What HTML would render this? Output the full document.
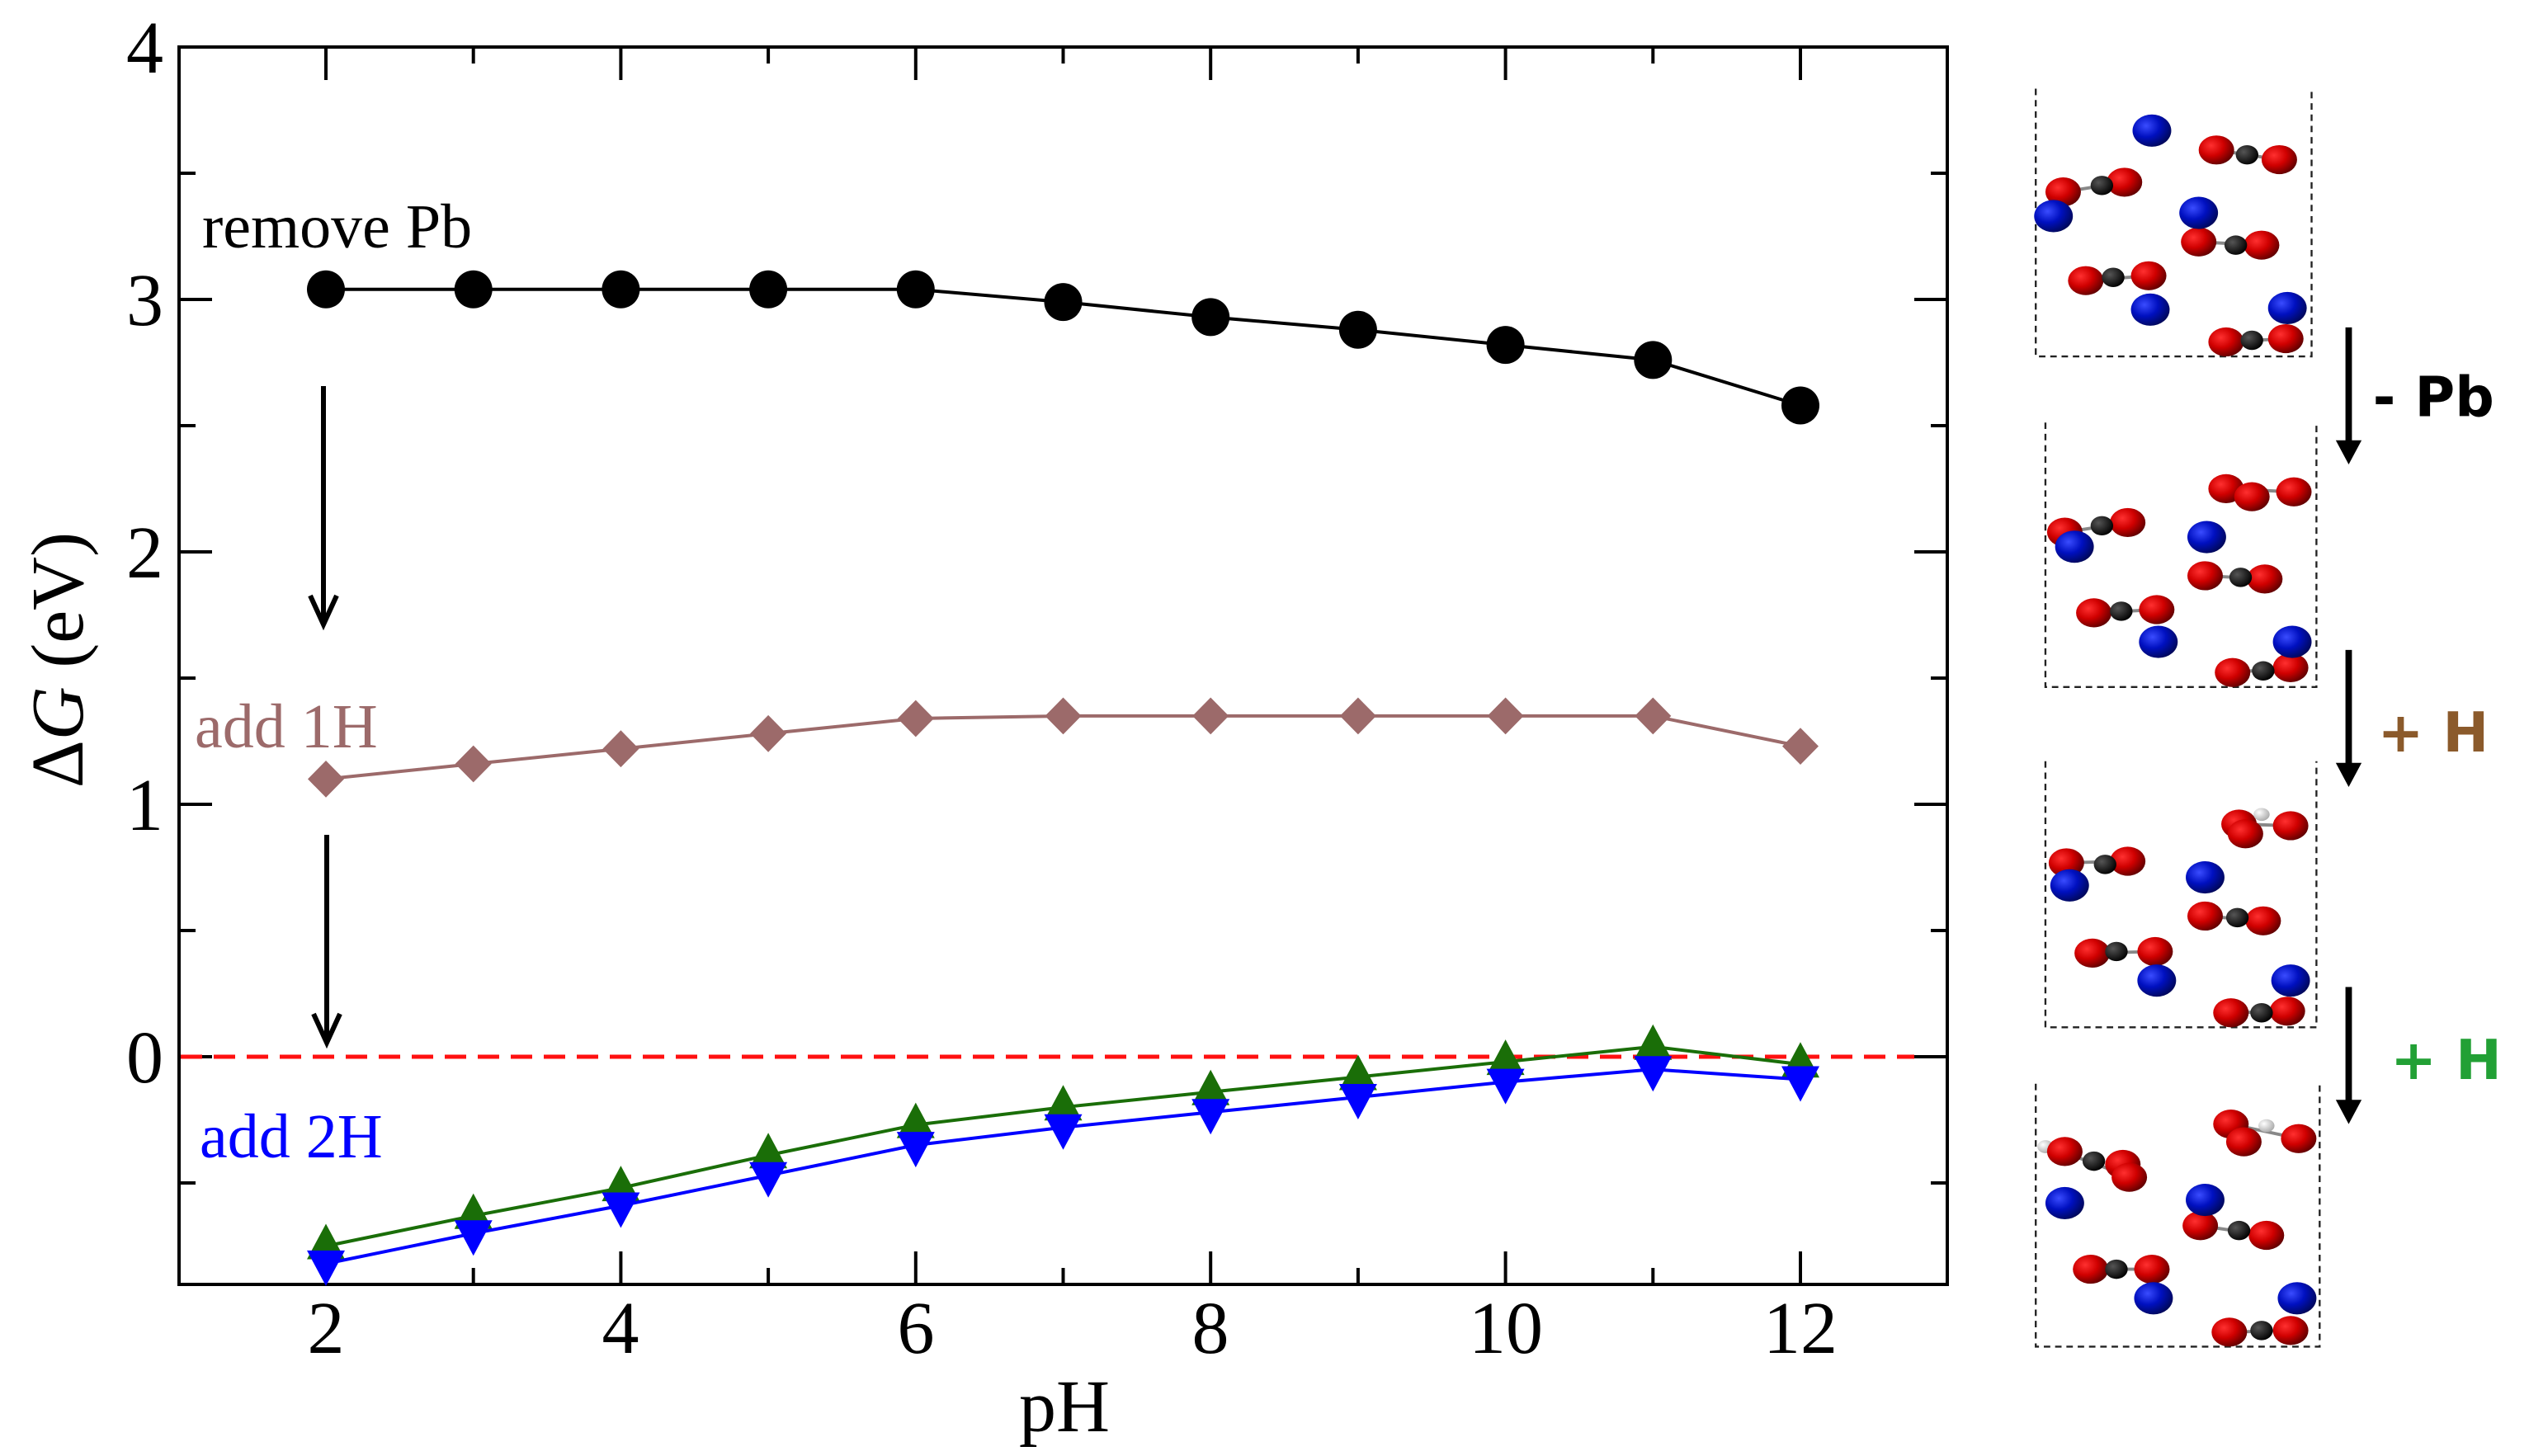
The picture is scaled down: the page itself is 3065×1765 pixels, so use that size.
<!DOCTYPE html>
<html><head><meta charset="utf-8"><style>
html,body{margin:0;padding:0;background:#fff}
svg{display:block}
.serif{font-family:"Liberation Serif","Times New Roman",serif}
</style></head><body>
<svg width="3065" height="1765" viewBox="0 0 3065 1765" xmlns="http://www.w3.org/2000/svg">
<defs>
<radialGradient id="gb" cx="0.35" cy="0.35" r="0.7"><stop offset="0" stop-color="#3a4cff"/><stop offset="0.5" stop-color="#0010c0"/><stop offset="1" stop-color="#00085a"/></radialGradient>
<radialGradient id="gr" cx="0.35" cy="0.35" r="0.7"><stop offset="0" stop-color="#ff3030"/><stop offset="0.5" stop-color="#d00000"/><stop offset="1" stop-color="#600000"/></radialGradient>
<radialGradient id="gk" cx="0.35" cy="0.35" r="0.7"><stop offset="0" stop-color="#555"/><stop offset="1" stop-color="#000"/></radialGradient>
<radialGradient id="gw" cx="0.35" cy="0.35" r="0.7"><stop offset="0" stop-color="#fff"/><stop offset="1" stop-color="#aaa"/></radialGradient>
</defs>

<rect x="217" y="57" width="2143" height="1500" fill="none" stroke="#000" stroke-width="4"/>
<g stroke="#000" stroke-width="4">
<path d="M395 1557v-40M752.4 1557v-40M1109.8 1557v-40M1467.2 1557v-40M1824.6 1557v-40M2182 1557v-40"/>
<path d="M395 57v40M752.4 57v40M1109.8 57v40M1467.2 57v40M1824.6 57v40M2182 57v40"/>
<path d="M573.7 1557v-20M931.1 1557v-20M1288.5 1557v-20M1645.9 1557v-20M2003.3 1557v-20"/>
<path d="M573.7 57v20M931.1 57v20M1288.5 57v20M1645.9 57v20M2003.3 57v20"/>
<path d="M217 1281h40M217 975h40M217 669h40M217 363h40"/>
<path d="M2360 1281h-40M2360 975h-40M2360 669h-40M2360 363h-40"/>
<path d="M217 1434h20M217 1128h20M217 822h20M217 516h20M217 210h20"/>
<path d="M2360 1434h-20M2360 1128h-20M2360 822h-20M2360 516h-20M2360 210h-20"/>
</g>

<g class="serif" font-size="90" fill="#000">
<g text-anchor="middle">
<text x="395" y="1640">2</text><text x="752" y="1640">4</text><text x="1110" y="1640">6</text>
<text x="1467" y="1640">8</text><text x="1825" y="1640">10</text><text x="2182" y="1640">12</text>
</g>
<g text-anchor="end">
<text x="198" y="88">4</text><text x="198" y="394">3</text><text x="198" y="700">2</text>
<text x="198" y="1006">1</text><text x="198" y="1312">0</text>
</g>
<text x="1290" y="1735" text-anchor="middle">pH</text>
<text transform="translate(100,800) rotate(-90)" text-anchor="middle"><tspan>Δ</tspan><tspan font-style="italic">G</tspan><tspan> (eV)</tspan></text>
</g>

<line x1="219" y1="1281" x2="2320" y2="1281" stroke="#ff1010" stroke-width="5" stroke-dasharray="26,14"/>

<g class="serif" font-size="76">
<text x="245" y="300" fill="#000">remove Pb</text>
<text x="236" y="906" fill="#9c6a6a">add 1H</text>
<text x="242" y="1403" fill="#0000ff">add 2H</text>
</g>

<g stroke="#000" stroke-width="6" fill="none">
<path d="M392 468V755M376 722L392 757L408 722"/>
<path d="M396 1012V1262M380 1229L396 1264L412 1229"/>
</g>

<polyline fill="none" stroke="#000" stroke-width="4" points="395,350.8 573.7,350.8 752.4,350.8 931.1,350.8 1109.8,350.8 1288.5,366.1 1467.2,384.4 1645.9,399.7 1824.6,418.1 2003.3,436.4 2182,491.5"/>
<g fill="#000">
<circle cx="395" cy="350.8" r="23"/><circle cx="573.7" cy="350.8" r="23"/><circle cx="752.4" cy="350.8" r="23"/><circle cx="931.1" cy="350.8" r="23"/><circle cx="1109.8" cy="350.8" r="23"/><circle cx="1288.5" cy="366.1" r="23"/><circle cx="1467.2" cy="384.4" r="23"/><circle cx="1645.9" cy="399.7" r="23"/><circle cx="1824.6" cy="418.1" r="23"/><circle cx="2003.3" cy="436.4" r="23"/><circle cx="2182" cy="491.5" r="23"/>
</g>

<polyline fill="none" stroke="#9c6a6a" stroke-width="4" points="395,944.4 573.7,926 752.4,907.7 931.1,889.3 1109.8,871 1288.5,867.9 1467.2,867.9 1645.9,867.9 1824.6,867.9 2003.3,867.9 2182,904.6"/>
<g fill="#9c6a6a">
<path d="M395 922l22 22.4l-22 22.4l-22-22.4z"/>
<path d="M573.7 903.6l22 22.4l-22 22.4l-22-22.4z"/>
<path d="M752.4 885.3l22 22.4l-22 22.4l-22-22.4z"/>
<path d="M931.1 866.9l22 22.4l-22 22.4l-22-22.4z"/>
<path d="M1109.8 848.6l22 22.4l-22 22.4l-22-22.4z"/>
<path d="M1288.5 845.5l22 22.4l-22 22.4l-22-22.4z"/>
<path d="M1467.2 845.5l22 22.4l-22 22.4l-22-22.4z"/>
<path d="M1645.9 845.5l22 22.4l-22 22.4l-22-22.4z"/>
<path d="M1824.6 845.5l22 22.4l-22 22.4l-22-22.4z"/>
<path d="M2003.3 845.5l22 22.4l-22 22.4l-22-22.4z"/>
<path d="M2182 882.2l22 22.4l-22 22.4l-22-22.4z"/>
</g>

<polyline fill="none" stroke="#1a6e08" stroke-width="4" points="395,1510.5 573.7,1473.8 752.4,1440.1 931.1,1400.3 1109.8,1363.6 1288.5,1342.2 1467.2,1323.8 1645.9,1305.5 1824.6,1287.1 2003.3,1268.8 2182,1290.2"/>
<g fill="#1a6e08">
<path d="M395 1483.5l23 43h-46z"/>
<path d="M573.7 1446.8l23 43h-46z"/>
<path d="M752.4 1413.1l23 43h-46z"/>
<path d="M931.1 1373.3l23 43h-46z"/>
<path d="M1109.8 1336.6l23 43h-46z"/>
<path d="M1288.5 1315.2l23 43h-46z"/>
<path d="M1467.2 1296.8l23 43h-46z"/>
<path d="M1645.9 1278.5l23 43h-46z"/>
<path d="M1824.6 1260.1l23 43h-46z"/>
<path d="M2003.3 1241.8l23 43h-46z"/>
<path d="M2182 1263.2l23 43h-46z"/>
</g>

<polyline fill="none" stroke="#0000ff" stroke-width="4" points="395,1531.9 573.7,1495.2 752.4,1461.5 931.1,1424.8 1109.8,1388.1 1288.5,1366.7 1467.2,1348.3 1645.9,1330 1824.6,1311.6 2003.3,1296.3 2182,1308.5"/>
<g fill="#0000ff">
<path d="M395 1558.9l23-43h-46z"/>
<path d="M573.7 1522.2l23-43h-46z"/>
<path d="M752.4 1488.5l23-43h-46z"/>
<path d="M931.1 1451.8l23-43h-46z"/>
<path d="M1109.8 1415.1l23-43h-46z"/>
<path d="M1288.5 1393.7l23-43h-46z"/>
<path d="M1467.2 1375.3l23-43h-46z"/>
<path d="M1645.9 1357l23-43h-46z"/>
<path d="M1824.6 1338.6l23-43h-46z"/>
<path d="M2003.3 1323.3l23-43h-46z"/>
<path d="M2182 1335.5l23-43h-46z"/>
</g>

<g transform="scale(1.955)">
<g fill="none" stroke="#222" stroke-width="1.2" stroke-dasharray="4,3">
<path d="M1262 55V221H1433V55"/>
<path d="M1268 262V426H1436V262"/>
<path d="M1268 472V637H1436V472"/>
<path d="M1262 672V835H1438V672"/>
</g>
<g stroke="#888" stroke-width="2">
<path d="M1279 119L1317 113M1374 93L1413 99M1363 150L1402 152M1293 174L1332 171M1380 212L1417 210"/>
<path d="M1280 330L1319 324M1380 303L1422 305M1367 357L1404 359M1298 380L1337 378M1384 417L1420 414"/>
<path d="M1281 535L1319 534M1388 511L1420 512M1367 568L1403 571M1297 591L1336 590M1383 628L1418 627"/>
<path d="M1278 714L1316 728M1383 697L1425 706M1364 760L1405 766M1296 787L1334 787M1382 826L1420 825"/>
</g>
<g fill="url(#gr)">
<ellipse cx="1279" cy="119" rx="11" ry="9"/><ellipse cx="1317" cy="113" rx="11" ry="9"/>
<ellipse cx="1374" cy="93" rx="11" ry="9"/><ellipse cx="1413" cy="99" rx="11" ry="9"/>
<ellipse cx="1363" cy="150" rx="11" ry="9"/><ellipse cx="1402" cy="152" rx="11" ry="9"/>
<ellipse cx="1293" cy="174" rx="11" ry="9"/><ellipse cx="1332" cy="171" rx="11" ry="9"/>
<ellipse cx="1380" cy="212" rx="11" ry="9"/><ellipse cx="1417" cy="210" rx="11" ry="9"/>
</g>
<g fill="url(#gk)">
<ellipse cx="1303" cy="115" rx="7" ry="6"/><ellipse cx="1393" cy="96" rx="7" ry="6"/><ellipse cx="1386" cy="152" rx="7" ry="6"/><ellipse cx="1310" cy="172" rx="7" ry="6"/><ellipse cx="1396" cy="211" rx="7" ry="6"/>
</g>
<g fill="url(#gb)">
<ellipse cx="1334" cy="81" rx="12" ry="10"/><ellipse cx="1273" cy="134" rx="12" ry="10"/><ellipse cx="1363" cy="132" rx="12" ry="10"/><ellipse cx="1333" cy="192" rx="12" ry="10"/><ellipse cx="1418" cy="191" rx="12" ry="10"/>
</g>
<g fill="url(#gr)">
<ellipse cx="1280" cy="330" rx="11" ry="9"/><ellipse cx="1319" cy="324" rx="11" ry="9"/>
<ellipse cx="1380" cy="303" rx="11" ry="9"/><ellipse cx="1396" cy="308" rx="11" ry="9"/><ellipse cx="1422" cy="305" rx="11" ry="9"/>
<ellipse cx="1367" cy="357" rx="11" ry="9"/><ellipse cx="1404" cy="359" rx="11" ry="9"/>
<ellipse cx="1298" cy="380" rx="11" ry="9"/><ellipse cx="1337" cy="378" rx="11" ry="9"/>
<ellipse cx="1384" cy="417" rx="11" ry="9"/><ellipse cx="1420" cy="414" rx="11" ry="9"/>
</g>
<g fill="url(#gk)">
<ellipse cx="1303" cy="326" rx="7" ry="6"/><ellipse cx="1389" cy="358" rx="7" ry="6"/><ellipse cx="1315" cy="379" rx="7" ry="6"/><ellipse cx="1403" cy="416" rx="7" ry="6"/>
</g>
<g fill="url(#gb)">
<ellipse cx="1286" cy="339" rx="12" ry="10"/><ellipse cx="1368" cy="333" rx="12" ry="10"/><ellipse cx="1338" cy="398" rx="12" ry="10"/><ellipse cx="1421" cy="398" rx="12" ry="10"/>
</g>
<g fill="url(#gr)">
<ellipse cx="1281" cy="535" rx="11" ry="9"/><ellipse cx="1319" cy="534" rx="11" ry="9"/>
<ellipse cx="1388" cy="511" rx="11" ry="9"/><ellipse cx="1392" cy="517" rx="11" ry="9"/><ellipse cx="1420" cy="512" rx="11" ry="9"/>
<ellipse cx="1367" cy="568" rx="11" ry="9"/><ellipse cx="1403" cy="571" rx="11" ry="9"/>
<ellipse cx="1297" cy="591" rx="11" ry="9"/><ellipse cx="1336" cy="590" rx="11" ry="9"/>
<ellipse cx="1383" cy="628" rx="11" ry="9"/><ellipse cx="1418" cy="627" rx="11" ry="9"/>
</g>
<g fill="url(#gk)">
<ellipse cx="1305" cy="536" rx="7" ry="6"/><ellipse cx="1387" cy="569" rx="7" ry="6"/><ellipse cx="1312" cy="590" rx="7" ry="6"/><ellipse cx="1402" cy="628" rx="7" ry="6"/>
</g>
<ellipse cx="1402" cy="505" rx="5" ry="4" fill="url(#gw)"/>
<g fill="url(#gb)">
<ellipse cx="1283" cy="549" rx="12" ry="10"/><ellipse cx="1367" cy="544" rx="12" ry="10"/><ellipse cx="1337" cy="608" rx="12" ry="10"/><ellipse cx="1420" cy="608" rx="12" ry="10"/>
</g>
<ellipse cx="1268" cy="711" rx="5" ry="4" fill="url(#gw)"/>
<ellipse cx="1405" cy="698" rx="5" ry="4" fill="url(#gw)"/>
<g fill="url(#gr)">
<ellipse cx="1280" cy="714" rx="11" ry="9"/><ellipse cx="1316" cy="722" rx="11" ry="9"/><ellipse cx="1320" cy="730" rx="11" ry="9"/>
<ellipse cx="1383" cy="697" rx="11" ry="9"/><ellipse cx="1391" cy="708" rx="11" ry="9"/><ellipse cx="1425" cy="706" rx="11" ry="9"/>
<ellipse cx="1364" cy="760" rx="11" ry="9"/><ellipse cx="1405" cy="766" rx="11" ry="9"/>
<ellipse cx="1296" cy="787" rx="11" ry="9"/><ellipse cx="1334" cy="787" rx="11" ry="9"/>
<ellipse cx="1382" cy="826" rx="11" ry="9"/><ellipse cx="1420" cy="825" rx="11" ry="9"/>
</g>
<g fill="url(#gk)">
<ellipse cx="1298" cy="720" rx="7" ry="6"/><ellipse cx="1388" cy="763" rx="7" ry="6"/><ellipse cx="1312" cy="787" rx="7" ry="6"/><ellipse cx="1402" cy="825" rx="7" ry="6"/>
</g>
<g fill="url(#gb)">
<ellipse cx="1280" cy="746" rx="12" ry="10"/><ellipse cx="1367" cy="744" rx="12" ry="10"/><ellipse cx="1335" cy="805" rx="12" ry="10"/><ellipse cx="1424" cy="805" rx="12" ry="10"/>
</g>
<g fill="#000">
<rect x="1454" y="203" width="4" height="72"/><path d="M1448 273h16l-8 15z"/>
<rect x="1454" y="403" width="4" height="72"/><path d="M1448 473h16l-8 15z"/>
<rect x="1454" y="612" width="4" height="72"/><path d="M1448 682h16l-8 15z"/>
</g>
<g font-family="'DejaVu Sans', sans-serif" font-weight="bold" font-size="34">
<text x="1471" y="258" fill="#000">- Pb</text>
<text x="1474" y="466" fill="#8b5a2b">+ H</text>
<text x="1482" y="669" fill="#22a035">+ H</text>
</g>
</g>
</svg>
</body></html>
